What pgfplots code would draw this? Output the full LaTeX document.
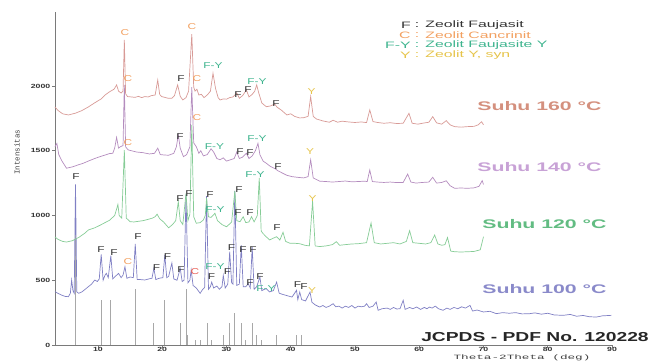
\documentclass[border=0pt]{standalone}
\usepackage{fontspec}
\setmainfont{Liberation Sans}
\newfontfamily\monofont{Liberation Mono}
\usepackage{pgfplots}
\usepackage{pgfplotstable}
\pgfplotsset{compat=1.18}

\definecolor{c160}{HTML}{D89A96}
\definecolor{c140}{HTML}{B48CBE}
\definecolor{c120}{HTML}{86CC96}
\definecolor{c100}{HTML}{8080C4}
\definecolor{t160}{HTML}{D4907E}
\definecolor{t140}{HTML}{C8A2D6}
\definecolor{t120}{HTML}{62BC82}
\definecolor{t100}{HTML}{8A8ACA}
\definecolor{lf}{HTML}{333333}
\definecolor{lc}{HTML}{F2A060}
\definecolor{lcr}{HTML}{E85A50}
\definecolor{lfy}{HTML}{3EB48E}
\definecolor{ly}{HTML}{E6C44A}
\definecolor{stick}{HTML}{A8A8A8}
\definecolor{axc}{HTML}{7A7A7A}

\pgfplotstableread{
x y
6.5 1000
10.5 347
12.0 347
15.8 432
18.7 170
20.4 347
22.8 170
23.7 430
24.0 77
25.1 39
25.9 39
27.0 170
27.7 39
29.6 77
30.5 170
31.3 247
32.4 170
33.0 39
34.0 170
34.7 77
35.5 39
37.7 77
40.9 77
41.7 77
}\sticks

\pgfplotstableread{
x y
3.3 1838
3.8 1810
4.5 1785
5.4 1776
6.5 1790
7.5 1810
8.5 1838
9.5 1870
10.5 1900
11.1 1930
11.8 1955
12.5 1975
12.9 2008
13.2 1960
13.6 1945
13.9 1960
14.1 2355
14.3 1940
14.6 1918
15.2 1915
15.8 1912
16.3 1920
16.8 1910
17.3 1918
17.8 1915
18.3 1925
18.9 1930
19.3 2046
19.6 1935
19.9 1918
20.4 1912
20.9 1905
21.5 1905
21.9 1925
22.4 2008
22.8 1920
23.2 1892
23.7 1910
24.1 1960
24.6 2400
24.9 1990
25.1 1960
25.4 1975
25.7 1930
26.1 1935
26.5 1910
27.0 1930
27.5 1960
27.9 2098
28.3 1980
28.7 1910
29.0 1892
29.5 1900
30.0 1898
30.5 1910
31.0 1915
31.6 1946
32.0 1905
32.5 1925
33.1 1969
33.5 1915
34.0 1935
34.4 1960
34.7 2008
35.0 1950
35.5 1868
36.2 1840
36.8 1845
37.5 1860
37.9 1835
38.5 1815
39.4 1776
40.0 1785
40.6 1765
41.4 1753
42.0 1755
42.7 1765
43.1 1918
43.5 1765
44.0 1745
45.0 1730
46.0 1720
46.6 1735
47.3 1720
48.0 1728
49.0 1722
50.0 1718
51.0 1722
51.8 1717
52.3 1815
52.8 1725
53.5 1718
54.5 1712
55.5 1716
56.5 1710
57.5 1712
58.4 1789
58.9 1712
59.8 1705
60.5 1712
61.5 1720
62.1 1763
62.7 1715
63.5 1705
64.2 1732
64.8 1700
65.5 1686
66.5 1682
67.5 1686
68.5 1688
69.2 1700
69.7 1724
70.0 1700
}\sonesixty

\pgfplotstableread{
x y
3.3 1531
3.6 1556
3.9 1470
4.4 1420
5.1 1365
6.0 1375
7.0 1392
7.7 1403
8.5 1420
9.5 1440
10.3 1454
11.0 1465
11.8 1478
12.3 1480
12.6 1520
12.9 1603
13.2 1520
13.5 1531
13.9 1540
14.1 2008
14.3 1530
14.7 1506
15.2 1500
16.0 1490
17.0 1485
18.0 1475
18.8 1480
19.3 1520
19.7 1470
20.3 1467
21.0 1465
21.8 1480
22.2 1530
22.5 1622
22.8 1520
23.3 1454
23.8 1470
24.3 1530
24.6 1990
24.9 1560
25.3 1531
25.7 1480
26.0 1500
26.4 1460
27.0 1470
27.6 1515
28.0 1490
28.5 1440
29.0 1430
29.5 1445
30.0 1420
30.6 1430
31.2 1440
31.6 1490
32.0 1440
32.5 1450
33.1 1480
33.5 1440
34.0 1460
34.5 1500
34.9 1557
35.2 1470
35.7 1420
36.2 1403
36.8 1380
37.6 1360
38.0 1345
38.6 1330
39.4 1310
40.2 1300
41.0 1295
42.0 1290
42.7 1300
43.1 1430
43.5 1290
44.5 1265
45.5 1262
46.5 1258
47.5 1262
48.5 1266
49.5 1260
50.5 1262
51.5 1265
51.9 1262
52.3 1351
52.7 1262
53.5 1258
54.5 1255
55.5 1258
56.5 1254
57.5 1255
58.2 1320
58.7 1258
59.5 1250
60.5 1255
61.5 1258
62.1 1295
62.7 1250
63.5 1255
64.2 1268
64.8 1230
65.5 1210
66.5 1212
67.5 1210
68.5 1213
69.3 1225
69.8 1269
70.0 1240
}\sonefourty

\pgfplotstableread{
x y
3.3 834
3.8 815
4.5 800
5.1 795
6.0 805
7.0 830
8.0 865
8.5 888
9.5 905
10.3 924
11.1 945
11.8 963
12.6 1000
12.9 1050
13.1 1085
13.3 1000
13.7 980
14.1 1505
14.4 980
15.0 952
15.6 950
16.3 955
17.0 960
17.8 970
18.5 980
18.9 991
19.2 1010
19.6 975
20.2 950
21.0 905
21.6 930
22.1 960
22.5 1107
22.8 960
23.2 930
23.7 1171
24.0 960
24.3 1010
24.6 1700
24.9 990
25.3 940
25.9 945
26.4 965
26.7 1000
26.9 1133
27.2 990
27.6 985
28.2 1017
28.6 960
29.3 930
30.0 913
30.5 935
30.8 950
31.3 1190
31.6 960
32.1 952
32.6 990
33.0 945
33.5 950
33.9 991
34.3 950
34.8 1000
35.1 1290
35.4 880
35.7 860
36.2 835
36.7 811
37.3 825
37.8 836
38.3 810
38.8 870
39.2 800
39.9 785
40.7 785
41.4 782
42.2 770
42.9 765
43.4 1110
43.8 765
44.5 760
45.5 765
46.5 775
47.1 798
47.6 770
48.5 775
49.5 780
50.5 782
51.3 787
51.8 790
52.5 942
53.0 790
54.0 780
55.0 785
56.0 790
57.0 780
58.0 800
58.5 883
59.0 790
60.0 785
61.0 780
61.8 790
62.4 849
62.9 780
63.5 770
64.0 775
64.4 830
64.9 725
65.5 720
66.5 718
67.5 720
68.5 722
69.5 735
70.0 836
}\sonetwenty

\pgfplotstableread{
x y
3.3 412
3.8 398
4.3 386
4.9 375
5.4 373
5.7 400
5.9 502
6.1 420
6.3 400
6.5 1240
6.7 410
7.0 399
7.5 410
8.0 430
8.5 450
9.0 470
9.5 502
9.9 490
10.2 510
10.5 700
10.8 500
11.1 540
11.3 553
11.6 520
12.0 690
12.3 510
12.7 530
13.2 553
13.6 520
13.9 540
14.2 604
14.5 515
15.0 525
15.5 520
15.8 780
16.1 505
16.6 505
17.3 502
17.9 510
18.4 515
18.7 592
19.0 505
19.5 515
20.1 520
20.4 695
20.7 520
21.0 530
21.5 633
21.8 510
22.3 500
22.8 592
23.1 490
23.4 500
23.7 1160
24.0 480
24.3 500
24.5 579
24.8 460
25.3 440
25.9 399
26.3 430
26.6 445
26.9 1150
27.2 430
27.5 450
27.7 486
28.0 440
28.5 455
28.9 430
29.3 450
29.5 537
29.8 440
30.2 470
30.5 720
30.8 480
31.0 470
31.3 1190
31.6 460
32.0 470
32.3 770
32.6 450
33.0 450
33.4 473
33.7 440
34.0 757
34.3 430
34.7 450
35.2 525
35.5 420
35.9 430
36.2 435
36.7 410
37.3 420
37.8 486
38.2 400
38.8 390
39.5 380
40.2 370
40.9 422
41.1 350
41.4 409
41.7 350
42.3 340
43.0 409
43.3 330
43.8 310
44.5 293
45.0 305
45.5 290
46.0 300
46.6 319
47.0 295
47.5 300
48.0 285
48.5 300
49.0 290
49.5 305
50.0 285
50.5 300
51.0 295
51.5 300
51.8 319
52.2 290
52.8 300
53.3 332
53.6 268
54.2 280
55.0 285
55.5 275
56.0 290
56.5 278
57.0 280
57.5 345
57.8 275
58.5 290
59.0 280
59.6 293
60.2 275
60.8 290
61.2 280
61.6 293
62.0 285
62.5 300
63.0 280
63.7 268
64.3 285
64.8 275
65.4 290
66.0 280
66.6 295
67.2 285
67.9 306
68.3 262
69.0 270
70.0 255
71.0 260
72.0 242
73.0 250
74.0 245
75.0 250
76.0 240
77.2 242
78.0 248
79.0 238
80.0 245
81.0 232
82.4 229
83.5 236
84.5 222
85.5 228
86.5 218
87.6 216
88.5 225
89.9 229
}\sonehundred

\newcommand\PX[2]{({#1*1pt},{(364-#2)*1pt})}
\tikzset{
  pl/.style={font=\fontsize{8.5}{8.5}\selectfont, xscale=1.4, inner sep=0pt},
  lg/.style={font=\fontsize{9.3}{9.3}\selectfont, xscale=1.7, inner sep=0pt},
  su/.style={font=\bfseries\fontsize{12.5}{12.5}\selectfont, xscale=1.7, inner sep=0pt, anchor=west},
}

\begin{document}
\begin{tikzpicture}
\path[use as bounding box] (0,0) rectangle (651pt,364pt);
\begin{axis}[
  at={(55pt,19pt)}, anchor=south west,
  scale only axis, width=557pt, height=333pt,
  xmin=3.31, xmax=90, ymin=0, ymax=2571,
  axis x line=bottom, axis y line=left,
  axis line style={axc, line width=0.8pt, -},
  xtick={10,20,...,90}, ytick={0,500,1000,1500,2000},
  tick align=outside, major tick length=3pt,
  tick style={axc, line width=0.6pt},
  ticklabel style={font=\bfseries\fontsize{6}{6}\selectfont, xscale=1.45, text=black!80, inner sep=1pt},
  xticklabel style={yshift=1.5pt},
  /pgf/number format/assume math mode=true,
  /pgf/number format/set thousands separator={},
  clip=false,
]
\addplot[ycomb, stick, line width=0.9pt, no marks] table {\sticks};
\addplot[c100, line width=0.7pt, no marks] table {\sonehundred};
\addplot[c120, line width=0.7pt, no marks] table {\sonetwenty};
\addplot[c140, line width=0.7pt, no marks] table {\sonefourty};
\addplot[c160, line width=0.7pt, no marks] table {\sonesixty};
\end{axis}

% axis titles
\node[rotate=90, font=\monofont\fontsize{7.5}{8}\selectfont, text=black!75] at \PX{17}{152} {Intensitas};
\node[font=\monofont\fontsize{6.5}{6.5}\selectfont, xscale=1.95, inner sep=0pt, text=black!75] at \PX{522}{358} {Theta-2Theta (deg)};

% JCPDS
\node[font=\bfseries\fontsize{13}{13}\selectfont, xscale=1.48, inner sep=0pt, anchor=west, text=black!85] at \PX{421}{337} {JCPDS - PDF No. 120228};

% Suhu labels
\node[su, text=t160] at \PX{477}{106} {Suhu 160 °C};
\node[su, text=t140] at \PX{477}{167} {Suhu 140 °C};
\node[su, text=t120] at \PX{482}{224} {Suhu 120 °C};
\node[su, text=t100] at \PX{482}{289} {Suhu 100 °C};

% legend
\node[lg, anchor=east, text=lf] at \PX{411}{25} {F};
\node[lg, text=lf] at \PX{417}{25} {:};
\node[lg, anchor=west, text=lf] at \PX{425}{25} {Zeolit Faujasit};
\node[lg, anchor=east, text=lc] at \PX{411}{35} {C};
\node[lg, text=lc] at \PX{417}{35} {:};
\node[lg, anchor=west, text=lc] at \PX{425}{35} {Zeolit Cancrinit};
\node[lg, anchor=east, text=lfy] at \PX{411}{45} {F-Y};
\node[lg, text=lfy] at \PX{417}{45} {:};
\node[lg, anchor=west, text=lfy] at \PX{425}{45} {Zeolit Faujasite Y};
\node[lg, anchor=east, text=ly] at \PX{411}{55} {Y};
\node[lg, text=ly] at \PX{417}{55} {:};
\node[lg, anchor=west, text=ly] at \PX{425}{55} {Zeolit Y, syn};

% peak labels 160
\node[pl, text=lc] at \PX{125}{33} {C};
\node[pl, text=lc] at \PX{192}{27} {C};
\node[pl, text=lf] at \PX{181}{79} {F};
\node[pl, text=lc] at \PX{197}{79} {C};
\node[pl, text=lfy] at \PX{213}{66} {F-Y};
\node[pl, text=lf] at \PX{238}{95} {F};
\node[pl, text=lf] at \PX{248}{90} {F};
\node[pl, text=lfy] at \PX{257}{82} {F-Y};
\node[pl, text=lf] at \PX{276}{104} {F};
\node[pl, text=ly] at \PX{311.5}{92} {Y};
% 140
\node[pl, text=lc] at \PX{128}{79} {C};
\node[pl, text=lf] at \PX{180}{137} {F};
\node[pl, text=lfy] at \PX{214.5}{147} {F-Y};
\node[pl, text=lf] at \PX{240}{151.5} {F};
\node[pl, text=lf] at \PX{250}{153} {F};
\node[pl, text=lfy] at \PX{257}{138.5} {F-Y};
\node[pl, text=lf] at \PX{278}{167} {F};
\node[pl, text=ly] at \PX{310}{152} {Y};
% 120
\node[pl, text=lc] at \PX{128}{143} {C};
\node[pl, text=lf] at \PX{180}{199} {F};
\node[pl, text=lf] at \PX{189}{194} {F};
\node[pl, text=lc] at \PX{197}{118} {C};
\node[pl, text=lf] at \PX{210}{195} {F};
\node[pl, text=lfy] at \PX{215}{210} {F-Y};
\node[pl, text=lf] at \PX{239}{190} {F};
\node[pl, text=lf] at \PX{238}{213} {F};
\node[pl, text=lf] at \PX{250}{213} {F};
\node[pl, text=lfy] at \PX{255}{175} {F-Y};
\node[pl, text=lf] at \PX{277}{228} {F};
\node[pl, text=ly] at \PX{312.5}{199} {Y};
% 100
\node[pl, text=lf] at \PX{76}{177} {F};
\node[pl, text=lf] at \PX{101}{250} {F};
\node[pl, text=lf] at \PX{114}{253} {F};
\node[pl, text=lc] at \PX{128}{262} {C};
\node[pl, text=lf] at \PX{138}{237} {F};
\node[pl, text=lf] at \PX{156.5}{268} {F};
\node[pl, text=lf] at \PX{167.5}{257} {F};
\node[pl, text=lf] at \PX{181}{270} {F};
\node[pl, text=lcr] at \PX{195}{271.5} {C};
\node[pl, text=lf] at \PX{211.5}{277} {F};
\node[pl, text=lfy] at \PX{215}{267} {F-Y};
\node[pl, text=lf] at \PX{227.5}{272} {F};
\node[pl, text=lf] at \PX{231.5}{248} {F};
\node[pl, text=lf] at \PX{243}{250} {F};
\node[pl, text=lf] at \PX{253}{250} {F};
\node[pl, text=lf] at \PX{250}{283} {F};
\node[pl, text=lf] at \PX{260}{277} {F};
\node[pl, text=lfy] at \PX{266}{289} {F-Y};
\node[pl, text=lf] at \PX{297.5}{285} {F};
\node[pl, text=lf] at \PX{304}{287} {F};
\node[pl, text=ly] at \PX{312}{291} {Y};
\end{tikzpicture}
\end{document}
